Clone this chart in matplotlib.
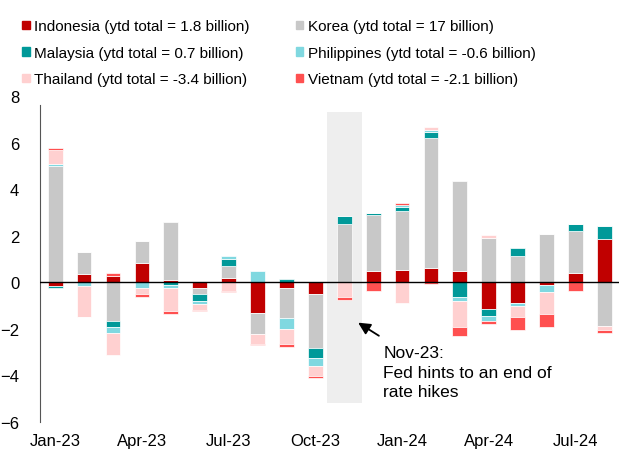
import numpy as np
import matplotlib.pyplot as plt
from matplotlib.patches import Patch

plt.rcParams['font.family'] = ['Liberation Sans', 'DejaVu Sans']

months = ['Jan-23', 'Feb-23', 'Mar-23', 'Apr-23', 'May-23', 'Jun-23', 'Jul-23', 'Aug-23',
          'Sep-23', 'Oct-23', 'Nov-23', 'Dec-23', 'Jan-24', 'Feb-24', 'Mar-24', 'Apr-24',
          'May-24', 'Jun-24', 'Jul-24', 'Aug-24']

# monthly flows, USD billion
indonesia = [-0.17, 0.36, 0.25, 0.82, 0.09, -0.27, 0.19, -1.31, -0.27, -0.49,
             0.0, 0.49, 0.52, 0.62, 0.49, -1.15, -0.89, -0.12, 0.39, 1.85]
korea = [4.98, 0.94, -1.66, 0.97, 2.51, -0.26, 0.50, -0.91, -1.28, -2.35,
         2.52, 2.42, 2.54, 5.58, 3.87, 1.92, 1.13, 2.09, 1.82, -1.88]
malaysia = [-0.08, 0.0, -0.29, 0.0, -0.14, -0.29, 0.30, 0.0, 0.14, -0.43,
            0.33, 0.06, 0.16, 0.26, -0.63, -0.29, 0.32, 0.0, 0.29, 0.56]
philippines = [0.10, -0.15, -0.25, -0.26, -0.12, -0.14, 0.12, 0.48, -0.46, -0.33,
               0.0, 0.0, 0.10, 0.09, -0.17, -0.22, -0.13, -0.32, 0.0, 0.0]
thailand = [0.60, -1.34, -0.94, -0.26, -1.00, -0.23, -0.39, -0.42, -0.65, -0.43,
            -0.66, 0.0, -0.89, 0.12, -1.15, 0.10, -0.46, -0.95, 0.0, -0.19]
vietnam = [0.10, -0.03, 0.14, -0.12, -0.13, -0.03, -0.02, -0.07, -0.13, -0.09,
           -0.12, -0.40, 0.07, -0.10, -0.37, -0.14, -0.59, -0.56, -0.39, -0.12]

series = [
    ('Indonesia (ytd total = 1.8 billion)', indonesia, '#C00000'),
    ('Korea (ytd total = 17 billion)', korea, '#C8C8C8'),
    ('Malaysia (ytd total = 0.7 billion)', malaysia, '#009999'),
    ('Philippines (ytd total = -0.6 billion)', philippines, '#80D8E0'),
    ('Thailand (ytd total = -3.4 billion)', thailand, '#FFD0D0'),
    ('Vietnam (ytd total = -2.1 billion)', vietnam, '#FF5050'),
]

x = np.arange(len(months))

fig = plt.figure(figsize=(6.27, 4.52), dpi=100)
ax = fig.add_axes([0.064, 0.065, 0.923, 0.72])

# Nov-23 highlight
ax.fill_between([9.4, 10.62], -5.2, 7.3, color='#EEEEEE', zorder=0, lw=0)

pos = np.zeros(len(x))
neg = np.zeros(len(x))
handles = []
for name, vals, col in series:
    v = np.array(vals)
    bottom = np.where(v >= 0, pos, neg)
    ax.bar(x, v, 0.51, bottom=bottom, color=col, edgecolor='white', linewidth=0.5, zorder=2)
    pos = pos + np.clip(v, 0, None)
    neg = neg + np.clip(v, None, 0)
    handles.append(Patch(color=col, label=name))

ax.axhline(0, color='black', lw=1.0, zorder=3)

ax.set_xlim(-0.52, 19.5)
ax.set_ylim(-6, 8)
ax.set_yticks(np.arange(-6, 9, 2))
ax.set_xticks(x[::3])
ax.set_xticklabels(months[::3])
ax.tick_params(axis='both', length=0, labelsize=12)
ax.tick_params(axis='y', pad=15)
ax.tick_params(axis='x', pad=8)
for s in ['top', 'right', 'bottom']:
    ax.spines[s].set_visible(False)
ax.spines['left'].set_color('#555555')
ax.spines['left'].set_bounds(-6, 7.6)

ax.annotate('', xy=(10.40, -1.68), xytext=(11.28, -2.37),
            arrowprops=dict(arrowstyle='-|>', color='black', lw=1.3, mutation_scale=18))
ax.text(11.35, -2.72, 'Nov-23:\nFed hints to an end of\nrate hikes', fontsize=12.5,
        va='top', ha='left', linespacing=1.35)

order = [0, 2, 4, 1, 3, 5]
fig.legend([handles[i] for i in order], [handles[i].get_label() for i in order],
           loc='upper left', bbox_to_anchor=(0.035, 0.955), ncol=2, frameon=False,
           fontsize=11, handlelength=0.5, handleheight=0.5, handletextpad=0.3,
           columnspacing=3.0, labelspacing=0.82, borderpad=0, borderaxespad=0)

fig.savefig('out.png', dpi=100)
